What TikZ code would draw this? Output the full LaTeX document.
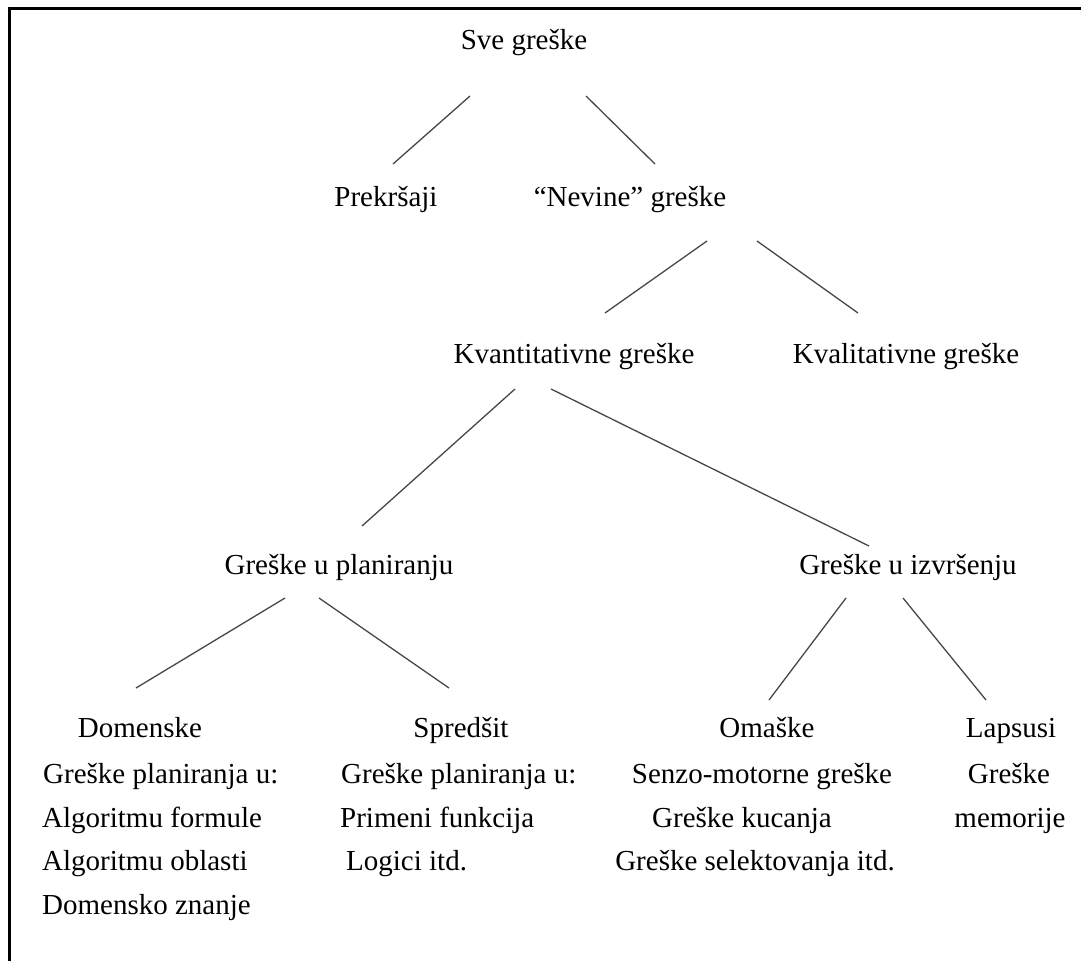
\documentclass[tikz,border=0pt]{standalone}
\usepackage{fontspec}
\setmainfont{Liberation Serif}
\begin{document}
\begin{tikzpicture}[x=1pt,y=-1pt,
  lbl/.style={inner sep=0pt, anchor=base, font=\fontsize{29}{35}\selectfont},
  lblw/.style={lbl, anchor=base west},
  edge/.style={line width=1.3pt, draw=black!72},
  frameline/.style={line width=3pt, draw=black}]
\useasboundingbox[fill=white] (0,0) rectangle (1081,961);

% open frame: left and top rules
\coordinate (fbl) at (9,961);
\coordinate (ftl) at (9,8);
\coordinate (ftr) at (1081,8);
\draw[frameline] (fbl) -- (ftl) -- (ftr);

% level 0
\node[lbl] (sve) at (524,49) {Sve greške};

% level 1
\node[lbl] (prek) at (386,206) {Prekršaji};
\node[lbl] (nev) at (630,206) {“Nevine” greške};

% level 2
\node[lbl] (kvan) at (574,363) {Kvantitativne greške};
\node[lbl] (kval) at (906,363) {Kvalitativne greške};

% level 3
\node[lbl] (plan) at (339,574) {Greške u planiranju};
\node[lbl] (izvr) at (908,574) {Greške u izvršenju};

% level 4 headings
\node[lbl] (dom) at (140,737) {Domenske};
\node[lbl] (spr) at (461,737) {Spredšit};
\node[lbl] (oma) at (767,737) {Omaške};
\node[lbl] (lap) at (1011,737) {Lapsusi};

% Domenske details
\node[lblw] (dom1) at (43,783) {Greške planiranja u:};
\node[lblw] (dom2) at (42,827) {Algoritmu formule};
\node[lblw] (dom3) at (42,870) {Algoritmu oblasti};
\node[lblw] (dom4) at (42,914) {Domensko znanje};

% Spredšit details
\node[lblw] (spr1) at (341,783) {Greške planiranja u:};
\node[lblw] (spr2) at (340,827) {Primeni funkcija};
\node[lblw] (spr3) at (346,870) {Logici itd.};

% Omaške details
\node[lbl] (oma1) at (762,783) {Senzo-motorne greške};
\node[lbl] (oma2) at (742,827) {Greške kucanja};
\node[lbl] (oma3) at (755,870) {Greške selektovanja itd.};

% Lapsusi details
\node[lbl] (lap1) at (1009,783) {Greške};
\node[lbl] (lap2) at (1010,827) {memorije};

% connector end points
\coordinate (sveL) at (470,96);   \coordinate (prekT) at (393,164);
\coordinate (sveR) at (586,96);   \coordinate (nevT)  at (655,164);
\coordinate (nevL) at (707,241);  \coordinate (kvanT) at (605,313);
\coordinate (nevR) at (757,241);  \coordinate (kvalT) at (858,313);
\coordinate (kvanL) at (515,389); \coordinate (planT) at (362,526);
\coordinate (kvanR) at (551,389); \coordinate (izvrT) at (869,546);
\coordinate (planL) at (285,598); \coordinate (domT)  at (136,688);
\coordinate (planR) at (319,598); \coordinate (sprT)  at (449,688);
\coordinate (izvrL) at (846,598); \coordinate (omaT)  at (769,700);
\coordinate (izvrR) at (903,598); \coordinate (lapT)  at (986,700);

\draw[edge] (sveL) -- (prekT);
\draw[edge] (sveR) -- (nevT);
\draw[edge] (nevL) -- (kvanT);
\draw[edge] (nevR) -- (kvalT);
\draw[edge] (kvanL) -- (planT);
\draw[edge] (kvanR) -- (izvrT);
\draw[edge] (planL) -- (domT);
\draw[edge] (planR) -- (sprT);
\draw[edge] (izvrL) -- (omaT);
\draw[edge] (izvrR) -- (lapT);
\end{tikzpicture}
\end{document}
